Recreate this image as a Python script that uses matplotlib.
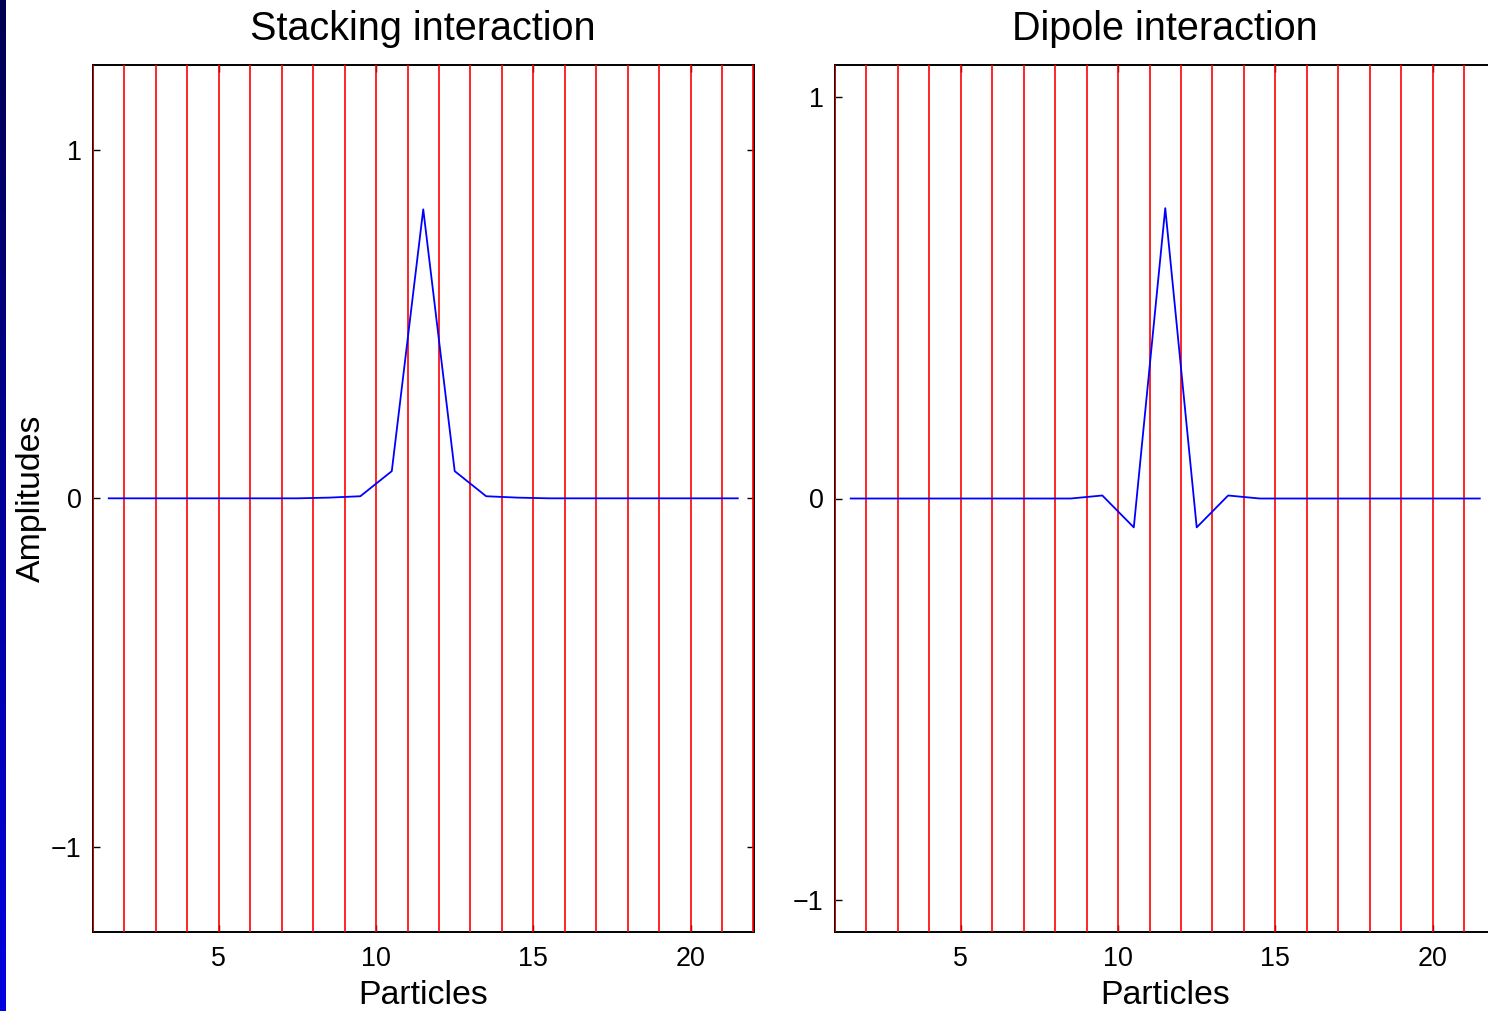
import numpy as np
import matplotlib
matplotlib.use("Agg")
import matplotlib.pyplot as plt

plt.rcParams["font.family"] = ["Liberation Sans", "DejaVu Sans"]

# particle positions (mid-cells) and the amplitudes of the two modes
particles = [1.5, 2.5, 3.5, 4.5, 5.5, 6.5, 7.5, 8.5, 9.5, 10.5, 11.5,
             12.5, 13.5, 14.5, 15.5, 16.5, 17.5, 18.5, 19.5, 20.5, 21.5]
stacking = [0, 0, 0, 0, 0, 0, 0, 0.002, 0.006, 0.078, 0.829,
            0.078, 0.006, 0.002, 0, 0, 0, 0, 0, 0, 0]
dipole = [0, 0, 0, 0, 0, 0, 0, 0, 0.0075, -0.072, 0.724,
          -0.072, 0.0075, 0, 0, 0, 0, 0, 0, 0, 0]

# cell boundaries
boundaries = list(range(1, 23))

panels = [
    ("Stacking interaction", stacking, (-1.244, 1.243)),
    ("Dipole interaction", dipole, (-1.081, 1.081)),
]

W, H = 1488, 1011
fig = plt.figure(figsize=(W / 100, H / 100), dpi=100)

# blue strip on the left edge
strip = fig.add_axes([0, 0, 6 / W, 1])
grad = np.linspace(0, 1, 256).reshape(-1, 1)
strip.imshow(grad, aspect="auto", cmap=matplotlib.colors.LinearSegmentedColormap.from_list(
    "strip", ["#000050", "#0000e0"]), extent=[0, 1, 0, 1], origin="upper")
strip.axis("off")

lefts = [93, 835]
for i, (title, amp, ylim) in enumerate(panels):
    ax = fig.add_axes([lefts[i] / W, 1 - 932 / H, 660.5 / W, 867 / H])
    for b in boundaries:
        ax.axvline(b, color="#ff0000", lw=1.2, zorder=3)
    ax.plot(particles, amp, color="#0000ff", lw=1.3, zorder=4)
    ax.set_xlim(1, 22)
    ax.set_ylim(*ylim)
    ax.set_xticks([5, 10, 15, 20])
    ax.set_yticks([-1, 0, 1])
    ax.set_yticklabels(["\u22121", "0", "1"])
    ax.tick_params(direction="in", length=5, width=1, labelsize=19.4,
                   top=True, right=True, pad=8)
    ax.tick_params(axis="x", pad=10)
    for s in ax.spines.values():
        s.set_linewidth(1.4)
    ax.set_title(title, fontsize=28.5, pad=18)
    ax.set_xlabel("Particles", fontsize=24.4, labelpad=6)
    if i == 0:
        ax.set_ylabel("Amplitudes", fontsize=24.4, labelpad=3)

fig.savefig("out.png", dpi=100)
